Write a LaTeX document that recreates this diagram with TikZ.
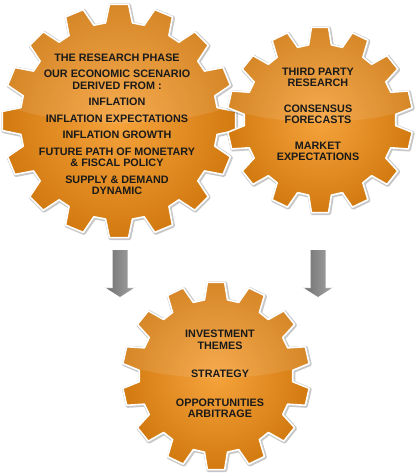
\documentclass[tikz,border=0pt]{standalone}
\usepackage{fontspec}
\setmainfont{Liberation Sans}
\usetikzlibrary{positioning,shapes.arrows}
\definecolor{cogedge}{HTML}{D27A10}
\definecolor{cogcore}{HTML}{F6A33C}
\definecolor{arrowdark}{HTML}{6E6E6E}
\definecolor{arrowlite}{HTML}{A6A6A6}
\definecolor{ink}{HTML}{1A1A1A}
\tikzset{
  cog/.style      = {draw=white, line width=1.6pt, line join=round,
                     inner color=cogcore, outer color=cogedge},
  cogshade/.style = {draw=black, line width=3.5pt, line join=round, opacity=0.22},
  gloss/.style    = {fill=white, opacity=0.10},
  cogtext/.style  = {font=\bfseries\fontsize{10.8}{11.5}\selectfont, text=ink,
                     align=center, inner sep=0pt},
  drop/.style     = {single arrow, shape border rotate=270, inner sep=7.5pt,
                     single arrow head extend=7.5pt, single arrow tip angle=115,
                     minimum height=48pt, draw=white, line width=0.6pt,
                     left color=arrowdark, right color=arrowlite},
}
% teeth, root radius, tip radius, root half angle, tip half angle
\newcommand\cogpath[5]{({90+#4}:#2)
  \foreach \k in {1,...,#1}{
    -- ({90+\k*360/#1-#4}:#2) -- ({90+\k*360/#1-#5}:#3)
    -- ({90+\k*360/#1+#5}:#3) -- ({90+\k*360/#1+#4}:#2)} -- cycle}
\begin{document}
\begin{tikzpicture}[x=1pt,y=1pt]
  \useasboundingbox (0,0) rectangle (416,474);
  % research gear
  \begin{scope}[shift={(119,353)}]
    \coordinate (bigcog) at (0,0);
    \draw[cogshade,shift={(0.8,-0.8)}] \cogpath{16}{99}{117}{7.8}{4.7};
    \draw[cog] \cogpath{16}{99}{117}{7.8}{4.7};
    \begin{scope}
      \clip \cogpath{16}{99}{117}{7.8}{4.7};
      \fill[gloss] (0,64) ellipse [x radius=170, y radius=66];
    \end{scope}
  \end{scope}
  % outside sources gear
  \begin{scope}[shift={(320,354)}]
    \coordinate (sidecog) at (0,0);
    \draw[cogshade,shift={(0.8,-0.8)}] \cogpath{14}{76}{93}{8.6}{5.3};
    \draw[cog] \cogpath{14}{76}{93}{8.6}{5.3};
    \begin{scope}
      \clip \cogpath{14}{76}{93}{8.6}{5.3};
      \fill[gloss] (0,52) ellipse [x radius=140, y radius=54];
    \end{scope}
  \end{scope}
  % result gear
  \begin{scope}[shift={(216,98)}]
    \coordinate (lowcog) at (0,0);
    \draw[cogshade,shift={(0.8,-0.8)}] \cogpath{14}{77}{94}{8.6}{5.3};
    \draw[cog] \cogpath{14}{77}{94}{8.6}{5.3};
    \begin{scope}
      \clip \cogpath{14}{77}{94}{8.6}{5.3};
      \fill[gloss] (0,52) ellipse [x radius=140, y radius=54];
    \end{scope}
  \end{scope}

  \node[cogtext] (research) at (117,349.5) {THE RESEARCH PHASE\\[5pt]
    OUR ECONOMIC SCENARIO\\DERIVED FROM :\\[5pt]
    INFLATION\\[5pt]INFLATION EXPECTATIONS\\[5pt]INFLATION GROWTH\\[5pt]
    FUTURE PATH OF MONETARY\\\& FISCAL POLICY\\[5pt]
    SUPPLY \& DEMAND\\DYNAMIC};
  \node[cogtext] (sources) at (318,359.5) {THIRD PARTY\\RESEARCH\\[14pt]
    CONSENSUS\\FORECASTS\\[14pt]MARKET\\EXPECTATIONS};
  \node[cogtext] (outcome) at (220,100) {INVESTMENT\\THEMES\\[17pt]
    STRATEGY\\[17pt]OPPORTUNITIES\\ARBITRAGE};

  \node[drop] (leftdrop) at (120,203) {};
  \node[drop] (rightdrop) at (318,203) {};
\end{tikzpicture}
\end{document}
